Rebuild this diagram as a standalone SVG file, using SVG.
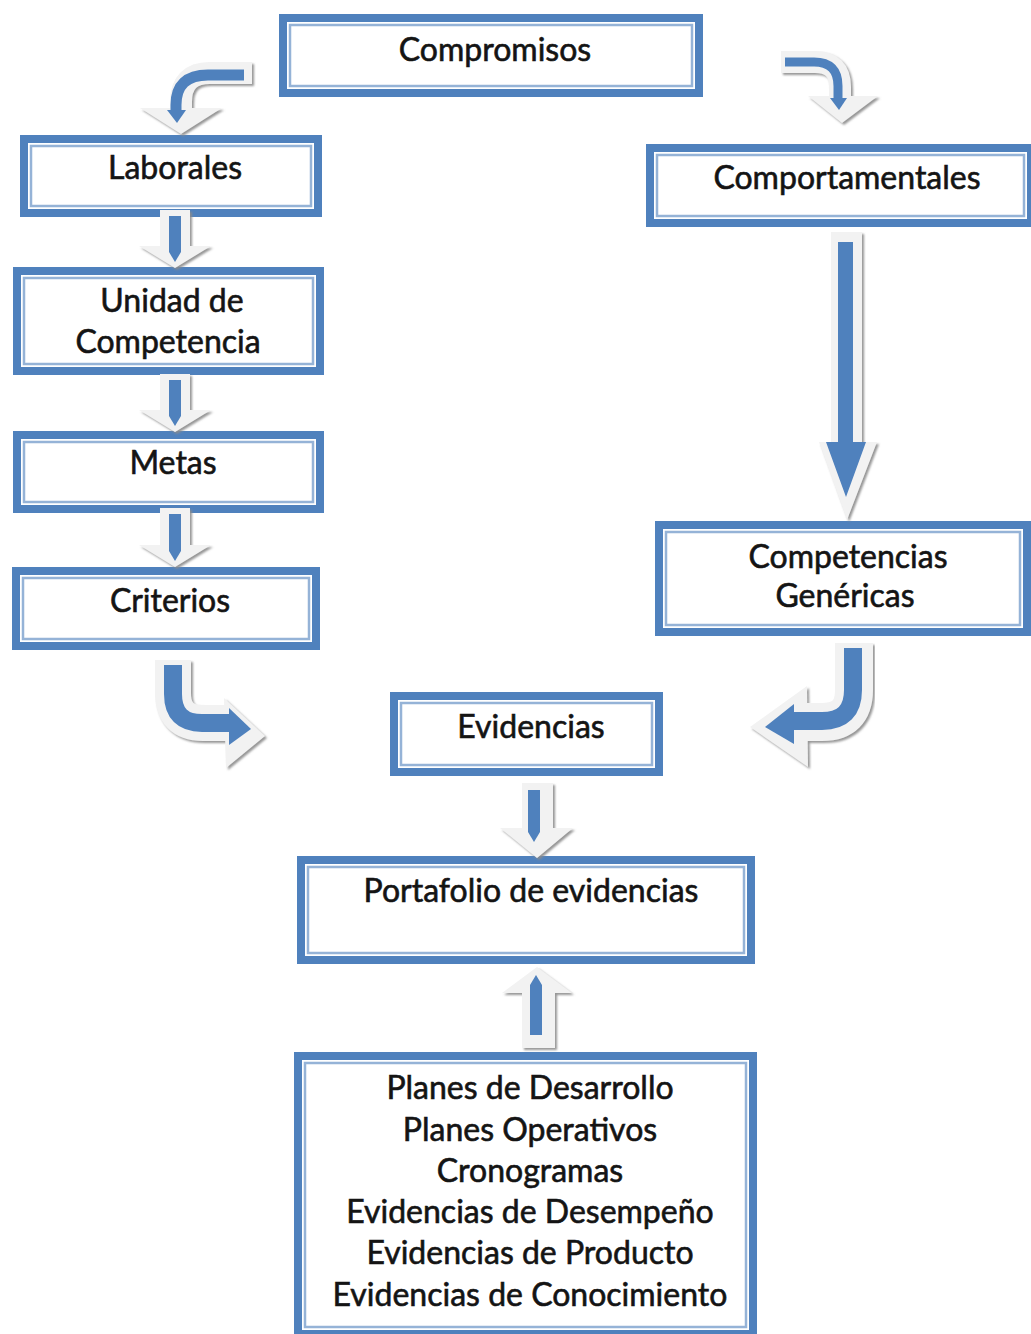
<svg xmlns="http://www.w3.org/2000/svg" width="1031" height="1334" viewBox="0 0 1031 1334">
<defs>
<style>
.ob{fill:#fff;stroke:#4f81bd;stroke-width:8}
.ib{fill:none;stroke:#95b3d7;stroke-width:2.5}
.t{font-family:Lato,"Noto Sans","Liberation Sans",sans-serif;font-size:32px;fill:#141414;stroke:#141414;stroke-width:0.6;text-anchor:middle}
.aw{fill:#f2f2f2}
.aws{fill:none;stroke:#f2f2f2;stroke-linejoin:round}
.ab{fill:#4f81bd}
.abs{fill:none;stroke:#4f81bd}
</style>
<filter id="sh" x="-20%" y="-20%" width="140%" height="140%">
<feDropShadow dx="2" dy="2" stdDeviation="1" flood-color="#8a8a8a" flood-opacity="0.9"/>
</filter>
</defs>
<rect width="1031" height="1334" fill="#fff"/>

<g id="compromisos">
<rect class="ob" x="283" y="18" width="416" height="75"/>
<rect class="ib" x="290" y="25" width="402" height="61"/>
<text class="t" x="495" y="61">Compromisos</text>
</g>
<g id="laborales">
<rect class="ob" x="24" y="139" width="294" height="74"/>
<rect class="ib" x="31" y="146" width="280" height="60"/>
<text class="t" x="175" y="179">Laborales</text>
</g>
<g id="unidad">
<rect class="ob" x="17" y="271" width="303" height="100"/>
<rect class="ib" x="24" y="278" width="289" height="86"/>
<text class="t" x="172" y="312">Unidad de</text>
<text class="t" x="168" y="353">Competencia</text>
</g>
<g id="metas">
<rect class="ob" x="17" y="435" width="303" height="74"/>
<rect class="ib" x="24" y="442" width="289" height="60"/>
<text class="t" x="173" y="474">Metas</text>
</g>
<g id="criterios">
<rect class="ob" x="16" y="571" width="300" height="75"/>
<rect class="ib" x="23" y="578" width="286" height="61"/>
<text class="t" x="170" y="612">Criterios</text>
</g>
<g id="comportamentales">
<rect class="ob" x="650" y="148" width="381" height="75"/>
<rect class="ib" x="657" y="155" width="367" height="61"/>
<text class="t" x="847" y="189">Comportamentales</text>
</g>
<g id="competencias">
<rect class="ob" x="659" y="525" width="368" height="107"/>
<rect class="ib" x="666" y="532" width="354" height="93"/>
<text class="t" x="848" y="568">Competencias</text>
<text class="t" x="845" y="607">Genéricas</text>
</g>
<g id="evidencias">
<rect class="ob" x="394" y="696" width="265" height="76"/>
<rect class="ib" x="401" y="703" width="251" height="62"/>
<text class="t" x="531" y="738">Evidencias</text>
</g>
<g id="portafolio">
<rect class="ob" x="301" y="860" width="450" height="100"/>
<rect class="ib" x="308" y="867" width="436" height="86"/>
<text class="t" x="531" y="902">Portafolio de evidencias</text>
</g>
<g id="planes">
<rect class="ob" x="298" y="1056" width="455" height="278"/>
<rect class="ib" x="305" y="1063" width="441" height="264"/>
<text class="t" x="530" y="1099">Planes de Desarrollo</text>
<text class="t" x="530" y="1141">Planes Operativos</text>
<text class="t" x="530" y="1182">Cronogramas</text>
<text class="t" x="530" y="1223">Evidencias de Desempeño</text>
<text class="t" x="530" y="1264">Evidencias de Producto</text>
<text class="t" x="530" y="1306">Evidencias de Conocimiento</text>
</g>

<g id="connectors">
<!-- Compromisos -> Laborales -->
<g filter="url(#sh)">
<path class="aws" stroke-width="22" d="M252,73 L210,73 Q181,73 181,102 L181,110"/>
<polygon class="aw" points="140,108 222,108 181,134"/>
</g>
<path class="abs" stroke-width="11" d="M244,75 L208,75 Q176,75 176,105 L176,112"/>
<polygon class="ab" points="167,110 186,110 177,123"/>

<!-- Compromisos -> Comportamentales -->
<g filter="url(#sh)">
<path class="aws" stroke-width="22" d="M781,62 L815,62 Q840,62 840,87 L840,98"/>
<polygon class="aw" points="808,96 878,96 842,123"/>
</g>
<path class="abs" stroke-width="9" d="M785,62 L814,62 Q838,62 838,86 L838,100"/>
<polygon class="ab" points="830,98 847,98 839,110"/>

<!-- Laborales -> Unidad -->
<g filter="url(#sh)">
<polygon class="aw" points="160,210 190,210 190,246 211,246 175,268 139,246 160,246"/>
</g>
<polygon class="ab" points="169,216 181,216 181,252 175,262 169,252"/>

<!-- Unidad -> Metas -->
<g filter="url(#sh)">
<polygon class="aw" points="160,374 190,374 190,410 211,410 175,432 139,410 160,410"/>
</g>
<polygon class="ab" points="169,380 181,380 181,416 175,426 169,416"/>

<!-- Metas -> Criterios -->
<g filter="url(#sh)">
<polygon class="aw" points="160,508 190,508 190,545 211,545 175,567 139,545 160,545"/>
</g>
<polygon class="ab" points="169,514 181,514 181,551 175,561 169,551"/>

<!-- Comportamentales -> Competencias -->
<g filter="url(#sh)">
<polygon class="aw" points="831,232 862,232 862,442 877,442 847,520 819,442 831,442"/>
</g>
<polygon class="ab" points="838,242 853,242 853,442 866,442 846,497 826,442 838,442"/>

<!-- Criterios -> Evidencias -->
<g filter="url(#sh)">
<path class="aws" stroke-width="36" d="M173,660 L173,693 Q173,723 203,723 L228,723"/>
<polygon class="aw" points="224,698 265,736 226,768"/>
</g>
<path class="abs" stroke-width="18" d="M173,665 L173,694 Q173,723 202,723 L231,723"/>
<polygon class="ab" points="229,708 251,729 229,745"/>

<!-- Competencias -> Evidencias -->
<g filter="url(#sh)">
<path class="aws" stroke-width="38" d="M854,643 L854,690 Q854,722 822,722 L805,722"/>
<polygon class="aw" points="807,686 750,727 808,767"/>
</g>
<path class="abs" stroke-width="18" d="M853,648 L853,690 Q853,721 822,721 L793,721"/>
<polygon class="ab" points="794,704 765,727 794,744"/>

<!-- Evidencias -> Portafolio -->
<g filter="url(#sh)">
<polygon class="aw" points="522,783 553,783 553,828 573,828 537,858 500,828 522,828"/>
</g>
<polygon class="ab" points="528,790 540,790 540,832 534,842 528,832"/>

<!-- Planes -> Portafolio -->
<g filter="url(#sh)">
<polygon class="aw" points="537,967 572,993 555,993 555,1048 522,1048 522,993 502,993"/>
</g>
<polygon class="ab" points="536,975 542,985 542,1035 530,1035 530,985"/>
</g>
</svg>
